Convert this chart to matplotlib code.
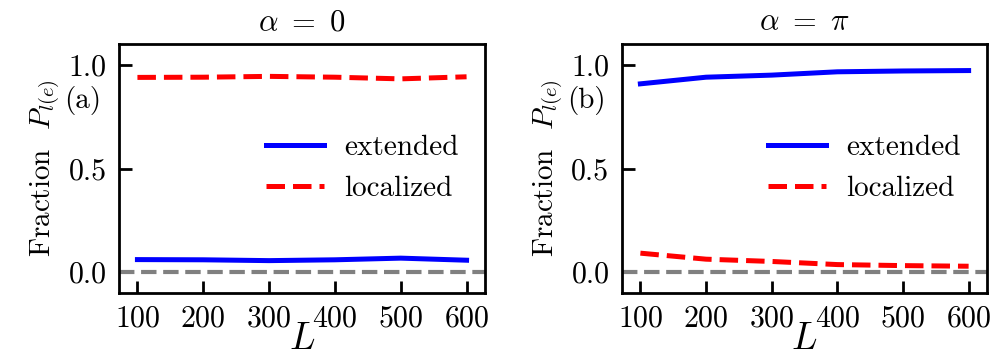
import numpy as np
import matplotlib
matplotlib.use("Agg")
import matplotlib.pyplot as plt

plt.rcParams['font.family'] = 'serif'
plt.rcParams['font.serif'] = ['cmr10', 'DejaVu Serif']
plt.rcParams['mathtext.fontset'] = 'cm'
plt.rcParams['axes.formatter.use_mathtext'] = True

L = [100, 200, 300, 400, 500, 600]
# alpha = 0
ext_a = [0.061, 0.060, 0.056, 0.060, 0.068, 0.058]
loc_a = [0.939, 0.940, 0.944, 0.940, 0.932, 0.942]
# alpha = pi
ext_b = [0.908, 0.940, 0.950, 0.966, 0.970, 0.972]
loc_b = [0.092, 0.063, 0.052, 0.037, 0.032, 0.029]

titles = [r'$\alpha\ =\ 0$', r'$\alpha\ =\ \pi$']
tags = ['(a)', '(b)']

fig = plt.figure(figsize=(9.97, 3.61), dpi=100)
axes = [fig.add_axes([119/997, 1-293/361, 366/997, 249/361]),
        fig.add_axes([622/997, 1-293/361, 365/997, 249/361])]

for ax, ext, loc, t, tag in zip(axes, [ext_a, ext_b], [loc_a, loc_b], titles, tags):
    ax.axhline(0, color='gray', lw=3, ls='--')
    ax.plot(L, ext, color='blue', lw=3.6, label='extended')
    ax.plot(L, loc, color='red', lw=3.6, ls='--', label='localized')
    ax.set_xlim(72, 628)
    ax.set_ylim(-0.1, 1.1)
    ax.set_xticks(L)
    ax.set_yticks([0.0, 0.5, 1.0])
    ax.set_yticklabels(['0.0', '0.5', '1.0'])
    ax.tick_params(direction='in', length=9, width=2, labelsize=21.5, pad=9)
    for s in ax.spines.values():
        s.set_linewidth(2)
    ax.set_title(t, fontsize=22, pad=10)
    ax.set_xlabel(r'$L$', fontsize=27, labelpad=-7)
    ax.set_ylabel(r'Fraction  $P_{l(e)}$', fontsize=21, labelpad=4)
    ax.text(-0.098, 0.775, tag, transform=ax.transAxes, fontsize=21,
            ha='center', va='center')
    ax.legend(loc='center right', bbox_to_anchor=(1.0, 0.5), frameon=False,
              fontsize=21, handlelength=2.0, handletextpad=0.7, labelspacing=0.5)

fig.savefig('out.png', dpi=100)
